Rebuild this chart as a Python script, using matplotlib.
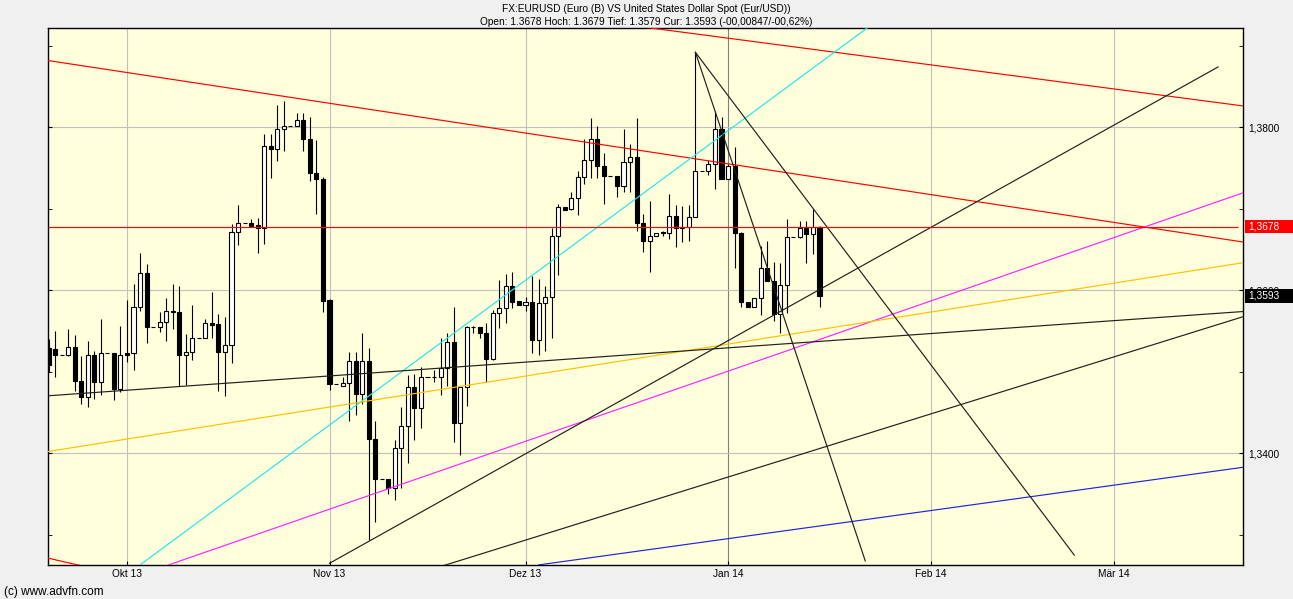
import numpy as np
import pandas as pd
import matplotlib
matplotlib.use("Agg")
import matplotlib.pyplot as plt
import matplotlib.dates as mdates
from matplotlib.patches import Rectangle
from matplotlib.transforms import blended_transform_factory
from matplotlib.ticker import FixedLocator, FuncFormatter

plt.rcParams['font.family'] = ['Liberation Sans', 'DejaVu Sans']

title_1 = "FX:EURUSD (Euro (B) VS United States Dollar Spot (Eur/USD))"
title_2 = "Open: 1.3678 Hoch: 1.3679 Tief: 1.3579 Cur: 1.3593 (-00,00847/-00,62%)"
credit = "(c) www.advfn.com"

# daily candles, 2013-09-19 .. 2014-01-15 (saturdays are flat)
first_day = "2013-09-19"
opens = [1.3529, 1.3528, 1.3521, 1.3521, 1.3530, 1.3489, 1.3469, 1.3521, 1.3487, 1.3523,
         1.3523, 1.3479, 1.3523, 1.3523, 1.3580, 1.3621, 1.3555, 1.3555, 1.3561, 1.3575,
         1.3573, 1.3521, 1.3524, 1.3542, 1.3542, 1.3560, 1.3558, 1.3524, 1.3533, 1.3671,
         1.3682, 1.3682, 1.3680, 1.3676, 1.3777, 1.3773, 1.3798, 1.3802, 1.3802, 1.3809,
         1.3785, 1.3744, 1.3736, 1.3588, 1.3485, 1.3483, 1.3486, 1.3513, 1.3473, 1.3513,
         1.3418, 1.3368, 1.3368, 1.3357, 1.3406, 1.3433, 1.3481, 1.3456, 1.3493, 1.3494,
         1.3494, 1.3505, 1.3537, 1.3437, 1.3481, 1.3555, 1.3555, 1.3548, 1.3516, 1.3572,
         1.3578, 1.3605, 1.3587, 1.3582, 1.3585, 1.3539, 1.3584, 1.3592, 1.3666, 1.3702,
         1.3700, 1.3713, 1.3739, 1.3760, 1.3786, 1.3753, 1.3740, 1.3740, 1.3728, 1.3757,
         1.3764, 1.3683, 1.3660, 1.3667, 1.3671, 1.3670, 1.3691, 1.3677, 1.3678, 1.3690,
         1.3746, 1.3746, 1.3755, 1.3798, 1.3737, 1.3753, 1.3670, 1.3585, 1.3580, 1.3591,
         1.3627, 1.3611, 1.3571, 1.3607, 1.3665, 1.3665, 1.3676, 1.3669, 1.3678]
highs = [1.3540, 1.3550, 1.3521, 1.3553, 1.3545, 1.3519, 1.3538, 1.3526, 1.3565, 1.3523,
         1.3523, 1.3556, 1.3588, 1.3608, 1.3646, 1.3632, 1.3555, 1.3573, 1.3591, 1.3608,
         1.3605, 1.3546, 1.3582, 1.3542, 1.3565, 1.3598, 1.3571, 1.3567, 1.3681, 1.3705,
         1.3682, 1.3688, 1.3689, 1.3792, 1.3792, 1.3827, 1.3832, 1.3802, 1.3817, 1.3818,
         1.3813, 1.3784, 1.3739, 1.3589, 1.3485, 1.3494, 1.3524, 1.3524, 1.3548, 1.3529,
         1.3439, 1.3368, 1.3368, 1.3416, 1.3457, 1.3496, 1.3497, 1.3506, 1.3493, 1.3502,
         1.3542, 1.3547, 1.3579, 1.3481, 1.3556, 1.3556, 1.3555, 1.3560, 1.3576, 1.3613,
         1.3620, 1.3622, 1.3587, 1.3592, 1.3617, 1.3614, 1.3605, 1.3677, 1.3706, 1.3702,
         1.3721, 1.3746, 1.3785, 1.3811, 1.3802, 1.3769, 1.3740, 1.3740, 1.3798, 1.3780,
         1.3811, 1.3693, 1.3710, 1.3670, 1.3673, 1.3718, 1.3705, 1.3704, 1.3705, 1.3892,
         1.3746, 1.3760, 1.3820, 1.3813, 1.3755, 1.3776, 1.3671, 1.3585, 1.3591, 1.3654,
         1.3661, 1.3635, 1.3634, 1.3687, 1.3665, 1.3685, 1.3685, 1.3700, 1.3679]
lows = [1.3500, 1.3494, 1.3521, 1.3519, 1.3477, 1.3460, 1.3457, 1.3467, 1.3472, 1.3523,
        1.3465, 1.3475, 1.3512, 1.3502, 1.3574, 1.3535, 1.3555, 1.3549, 1.3538, 1.3553,
        1.3483, 1.3484, 1.3515, 1.3542, 1.3541, 1.3541, 1.3476, 1.3470, 1.3511, 1.3655,
        1.3682, 1.3678, 1.3646, 1.3657, 1.3738, 1.3759, 1.3771, 1.3802, 1.3802, 1.3771,
        1.3734, 1.3693, 1.3573, 1.3478, 1.3485, 1.3482, 1.3439, 1.3447, 1.3461, 1.3294,
        1.3316, 1.3368, 1.3350, 1.3343, 1.3357, 1.3388, 1.3416, 1.3431, 1.3493, 1.3488,
        1.3472, 1.3482, 1.3414, 1.3398, 1.3458, 1.3547, 1.3541, 1.3488, 1.3515, 1.3554,
        1.3560, 1.3578, 1.3582, 1.3575, 1.3523, 1.3521, 1.3526, 1.3542, 1.3619, 1.3699,
        1.3699, 1.3692, 1.3730, 1.3738, 1.3738, 1.3706, 1.3740, 1.3714, 1.3720, 1.3720,
        1.3673, 1.3647, 1.3622, 1.3667, 1.3666, 1.3663, 1.3653, 1.3659, 1.3661, 1.3690,
        1.3746, 1.3742, 1.3724, 1.3737, 1.3737, 1.3627, 1.3580, 1.3580, 1.3580, 1.3570,
        1.3611, 1.3562, 1.3547, 1.3572, 1.3665, 1.3664, 1.3634, 1.3645, 1.3579]
closes = [1.3508, 1.3521, 1.3521, 1.3530, 1.3489, 1.3469, 1.3521, 1.3487, 1.3523, 1.3523,
          1.3479, 1.3521, 1.3521, 1.3580, 1.3621, 1.3555, 1.3555, 1.3561, 1.3575, 1.3573,
          1.3521, 1.3524, 1.3542, 1.3542, 1.3560, 1.3557, 1.3524, 1.3533, 1.3671, 1.3682,
          1.3682, 1.3679, 1.3676, 1.3777, 1.3773, 1.3798, 1.3802, 1.3802, 1.3809, 1.3785,
          1.3744, 1.3736, 1.3587, 1.3485, 1.3485, 1.3486, 1.3513, 1.3473, 1.3513, 1.3418,
          1.3368, 1.3368, 1.3357, 1.3406, 1.3433, 1.3481, 1.3456, 1.3493, 1.3493, 1.3493,
          1.3505, 1.3537, 1.3437, 1.3481, 1.3555, 1.3555, 1.3548, 1.3516, 1.3572, 1.3578,
          1.3605, 1.3586, 1.3582, 1.3585, 1.3539, 1.3584, 1.3592, 1.3666, 1.3702, 1.3699,
          1.3713, 1.3739, 1.3760, 1.3785, 1.3752, 1.3740, 1.3740, 1.3728, 1.3757, 1.3763,
          1.3682, 1.3660, 1.3667, 1.3670, 1.3670, 1.3691, 1.3677, 1.3678, 1.3690, 1.3746,
          1.3746, 1.3755, 1.3798, 1.3737, 1.3753, 1.3670, 1.3585, 1.3580, 1.3591, 1.3627,
          1.3611, 1.3571, 1.3607, 1.3665, 1.3665, 1.3676, 1.3669, 1.3678, 1.3593]

# drawn trend lines: start date, start price, end date, end price, colour
trend_lines = [
    ("2013-09-18", 1.3883, "2014-03-21", 1.3659, "#ff0000"),
    ("2013-12-01", 1.3942, "2014-03-21", 1.3826, "#ff0000"),
    ("2013-09-18", 1.3273, "2013-09-24", 1.3262, "#ff0000"),
    ("2013-10-03", 1.3263, "2014-01-23", 1.3926, "#22e6f0"),
    ("2013-10-07", 1.3262, "2014-03-21", 1.3720, "#ff22ff"),
    ("2013-09-18", 1.3401, "2014-03-21", 1.3634, "#ffc000"),
    ("2013-09-18", 1.3470, "2014-03-21", 1.3574, "#202020"),
    ("2013-11-01", 1.3265, "2014-03-17", 1.3874, "#202020"),
    ("2013-11-18", 1.3261, "2014-03-21", 1.3568, "#202020"),
    ("2013-12-03", 1.3263, "2014-03-21", 1.3383, "#2222e0"),
    ("2013-12-27", 1.3892, "2014-01-22", 1.3268, "#202020"),
    ("2013-12-27", 1.3892, "2014-02-23", 1.3275, "#202020"),
]

month_names = {10: "Okt", 11: "Nov", 12: "Dez", 1: "Jan", 2: "Feb", 3: "Mär"}
x_start, x_end = "2013-09-18 21:50", "2014-03-20 19:40"
open_line_end = "2014-03-20"
y_low, y_high = 1.32629, 1.39218

fig = plt.figure(figsize=(12.93, 5.99), dpi=100, facecolor="#f0f0f0")
ax = fig.add_axes([48 / 1293, 34 / 599, 1195 / 1293, 537 / 599])
ax.set_facecolor("#ffffdc")

days = mdates.date2num(pd.date_range(first_day, periods=len(opens), freq="D"))
o = np.array(opens); h = np.array(highs); l = np.array(lows); c = np.array(closes)
up = c >= o

ax.vlines(days, l, h, color="black", lw=0.8, zorder=3)
ax.bar(days[up], (c - o)[up], bottom=o[up], width=0.62, facecolor="white",
       edgecolor="black", lw=0.8, zorder=4)
ax.bar(days[~up], (o - c)[~up], bottom=c[~up], width=0.62, facecolor="black",
       edgecolor="black", lw=0.8, zorder=4)

for d0, p0, d1, p1, col in trend_lines:
    ax.plot(mdates.date2num(pd.to_datetime([d0, d1])), [p0, p1], color=col, lw=0.85, zorder=5)

# line at today's open
ax.hlines(opens[-1], mdates.date2num(pd.Timestamp(x_start)),
          mdates.date2num(pd.Timestamp(open_line_end)), color="#ff0000", lw=0.85, zorder=5)

ax.set_xlim(mdates.date2num(pd.Timestamp(x_start)), mdates.date2num(pd.Timestamp(x_end)))
ax.set_ylim(y_low, y_high)

ax.xaxis.set_major_locator(mdates.MonthLocator())
ax.xaxis.set_major_formatter(FuncFormatter(
    lambda v, pos: f"{month_names[mdates.num2date(v).month]} {mdates.num2date(v).year % 100}"))
ax.yaxis.set_major_locator(FixedLocator([1.34, 1.36, 1.38]))
ax.yaxis.set_minor_locator(FixedLocator([1.33, 1.35, 1.37, 1.39]))
ax.yaxis.set_major_formatter(FuncFormatter(lambda v, pos: f"{v:.4f}".replace(".", ",")))

ax.tick_params(axis="y", which="both", left=True, right=True, labelleft=False,
               labelright=True, direction="in", length=3, labelsize=7.3, pad=4)
ax.tick_params(axis="x", direction="in", length=3, labelsize=7.3, pad=3)

ax.grid(True, which="major", color="#c0c0c0", lw=0.8, zorder=0)
ax.set_axisbelow(True)
fig.canvas.draw()
for tick_val, gl in zip(ax.get_xticks(), ax.get_xgridlines()):
    if mdates.num2date(tick_val).month == 1:
        gl.set_color("#808080")

for sp in ax.spines.values():
    sp.set_color("black")
    sp.set_linewidth(1.0)

# value boxes on the right
tr = blended_transform_factory(fig.transFigure, ax.transData)
box_h = 13.5 / 8150
for val, col in [(opens[-1], "#ff0000"), (closes[-1], "#000000")]:
    ax.add_patch(Rectangle((1245 / 1293, val - box_h / 2), 48 / 1293, box_h, transform=tr,
                           facecolor=col, edgecolor="none", clip_on=False, zorder=10))
    ax.text(1248 / 1293, val, f"{val:.4f}".replace(".", ","), transform=tr, color="white",
            fontsize=7.3, va="center", ha="left", clip_on=False, zorder=11)

fig.text(0.5, 1 - 9 / 599, title_1, ha="center", va="center", fontsize=7.3)
fig.text(0.5, 1 - 22 / 599, title_2, ha="center", va="center", fontsize=7.3)
fig.text(4 / 1293, 1 - 592 / 599, credit, ha="left", va="center", fontsize=8.5)

fig.savefig("out.png", dpi=100, facecolor=fig.get_facecolor())
